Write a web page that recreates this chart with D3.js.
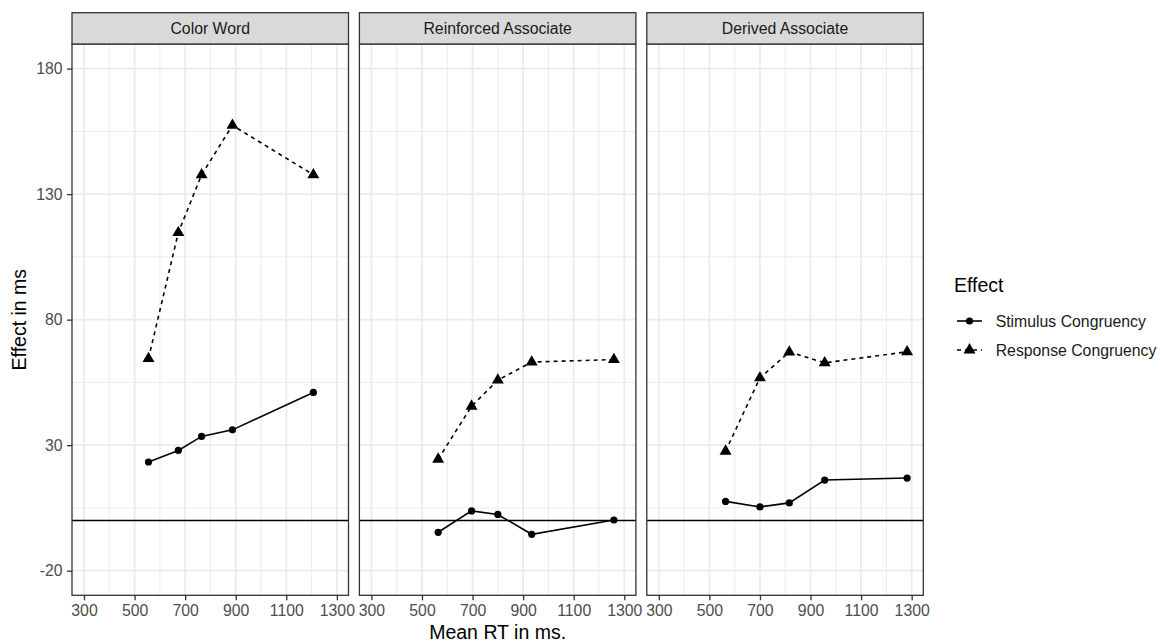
<!DOCTYPE html>
<html>
<head>
<meta charset="utf-8">
<script src="https://cdn.jsdelivr.net/npm/d3@7"></script>
<style>
  body { margin: 0; background: #fff; }
  text { font-family: "Liberation Sans", Arial, sans-serif; }
</style>
</head>
<body>
<svg id="chart" width="1160" height="643"></svg>
<script>
// Data
var facets = ["Color Word", "Reinforced Associate", "Derived Associate"];
var meanRT = [
  [555, 673, 765, 887, 1207],
  [564, 696, 800, 934, 1259],
  [564, 700, 816, 956, 1282]
];
var stimulusEffect = [
  [23.3, 27.9, 33.5, 36.1, 51.0],
  [-4.7, 3.8, 2.4, -5.5, 0.2],
  [7.6, 5.4, 7.0, 16.1, 16.9]
];
var responseEffect = [
  [64.5, 114.7, 137.7, 157.4, 137.7],
  [24.4, 45.5, 55.9, 63.1, 64.1],
  [27.6, 56.8, 67.1, 62.8, 67.2]
];
var seriesNames = ["Stimulus Congruency", "Response Congruency"];
var xTicks = [300, 500, 700, 900, 1100, 1300];
var xMinor = [400, 600, 800, 1000, 1200];
var yTicks = [-20, 30, 80, 130, 180];
var yMinor = [5, 55, 105, 155];

// Layout
var svg = d3.select("#chart"),
    left = 72,
    panelW = 276.5,
    gap = 10.9,
    stripTop = 12.7,
    stripH = 31.3,
    panelTop = stripTop + stripH,
    panelBottom = 595.3,
    fontSmall = "15.8px",
    fontTitle = "19.5px",
    plain = function(d) { return String(d); };

var y = d3.scaleLinear().domain([-29.8, 189.8]).range([panelBottom, panelTop]);
var symTri = d3.symbol().type(d3.symbolTriangle).size(62);

facets.forEach(function(name, i) {
  var x0 = left + i * (panelW + gap);
  var x = d3.scaleLinear().domain([252.5, 1346]).range([x0, x0 + panelW]);
  var g = svg.append("g");

  // Grid
  g.selectAll(".ymin").data(yMinor).enter().append("line")
    .attr("x1", x0).attr("x2", x0 + panelW)
    .attr("y1", function(d) { return y(d); }).attr("y2", function(d) { return y(d); })
    .attr("stroke", "#ebebeb").attr("stroke-width", 1);
  g.selectAll(".xmin").data(xMinor).enter().append("line")
    .attr("y1", panelTop).attr("y2", panelBottom)
    .attr("x1", function(d) { return x(d); }).attr("x2", function(d) { return x(d); })
    .attr("stroke", "#ebebeb").attr("stroke-width", 1);
  g.selectAll(".ymaj").data(yTicks).enter().append("line")
    .attr("x1", x0).attr("x2", x0 + panelW)
    .attr("y1", function(d) { return y(d); }).attr("y2", function(d) { return y(d); })
    .attr("stroke", "#ebebeb").attr("stroke-width", 1.8);
  g.selectAll(".xmaj").data(xTicks).enter().append("line")
    .attr("y1", panelTop).attr("y2", panelBottom)
    .attr("x1", function(d) { return x(d); }).attr("x2", function(d) { return x(d); })
    .attr("stroke", "#ebebeb").attr("stroke-width", 1.8);

  // zero reference line
  g.append("line")
    .attr("x1", x0).attr("x2", x0 + panelW)
    .attr("y1", y(0)).attr("y2", y(0))
    .attr("stroke", "#000").attr("stroke-width", 1.5);

  // Series
  var pts = meanRT[i].map(function(v, j) {
    return {x: v, s: stimulusEffect[i][j], r: responseEffect[i][j]};
  });
  var lineS = d3.line().x(function(d) { return x(d.x); }).y(function(d) { return y(d.s); });
  var lineR = d3.line().x(function(d) { return x(d.x); }).y(function(d) { return y(d.r); });

  g.append("path").datum(pts).attr("d", lineS)
    .attr("fill", "none").attr("stroke", "#000").attr("stroke-width", 1.6);
  g.append("path").datum(pts).attr("d", lineR)
    .attr("fill", "none").attr("stroke", "#000").attr("stroke-width", 1.6)
    .attr("stroke-dasharray", "4,4");

  g.selectAll(".pt").data(pts).enter().append("circle")
    .attr("cx", function(d) { return x(d.x); })
    .attr("cy", function(d) { return y(d.s); })
    .attr("r", 3.6).attr("fill", "#000");
  g.selectAll(".tri").data(pts).enter().append("path")
    .attr("d", symTri)
    .attr("transform", function(d) { return "translate(" + x(d.x) + "," + y(d.r) + ")"; })
    .attr("fill", "#000");

  // Panel border
  g.append("rect")
    .attr("x", x0).attr("y", panelTop).attr("width", panelW).attr("height", panelBottom - panelTop)
    .attr("fill", "none").attr("stroke", "#333").attr("stroke-width", 1.3);

  // Strip
  g.append("rect")
    .attr("x", x0).attr("y", stripTop).attr("width", panelW).attr("height", stripH)
    .attr("fill", "#d9d9d9").attr("stroke", "#333").attr("stroke-width", 1.3);
  g.append("text")
    .attr("x", x0 + panelW / 2).attr("y", stripTop + stripH / 2)
    .attr("dy", "0.35em").attr("text-anchor", "middle")
    .attr("font-size", fontSmall).attr("fill", "#1a1a1a")
    .text(name);

  // X axis
  var xAxis = g.append("g")
    .attr("transform", "translate(0," + panelBottom + ")")
    .call(d3.axisBottom(x).tickValues(xTicks).tickFormat(plain).tickSize(5).tickPadding(4.5));
  xAxis.select(".domain").remove();
  xAxis.selectAll(".tick line").attr("stroke", "#333").attr("stroke-width", 1.3);
  xAxis.selectAll("text").attr("font-size", fontSmall).attr("fill", "#4d4d4d")
    .attr("font-family", "Liberation Sans, Arial, sans-serif");

  // Y axis only on first panel
  if (i === 0) {
    var yAxis = g.append("g")
      .attr("transform", "translate(" + x0 + ",0)")
      .call(d3.axisLeft(y).tickValues(yTicks).tickFormat(plain).tickSize(5).tickPadding(4.5));
    yAxis.select(".domain").remove();
    yAxis.selectAll(".tick line").attr("stroke", "#333").attr("stroke-width", 1.3);
    yAxis.selectAll("text").attr("font-size", fontSmall).attr("fill", "#4d4d4d")
      .attr("font-family", "Liberation Sans, Arial, sans-serif");
  }
});

// Axis titles
var plotRight = left + 3 * panelW + 2 * gap;
svg.append("text")
  .attr("x", (left + plotRight) / 2).attr("y", 639)
  .attr("text-anchor", "middle").attr("font-size", fontTitle)
  .text("Mean RT in ms.");
svg.append("text")
  .attr("transform", "translate(26," + ((panelTop + panelBottom) / 2) + ") rotate(-90)")
  .attr("text-anchor", "middle").attr("font-size", fontTitle)
  .text("Effect in ms");

// Legend
var legend = svg.append("g").attr("transform", "translate(954,0)");
legend.append("text").attr("x", 0).attr("y", 292)
  .attr("font-size", fontTitle).text("Effect");
seriesNames.forEach(function(name, k) {
  var ly = 321 + k * 29;
  legend.append("line")
    .attr("x1", 3).attr("x2", 28).attr("y1", ly).attr("y2", ly)
    .attr("stroke", "#000").attr("stroke-width", 1.6)
    .attr("stroke-dasharray", k === 1 ? "4,4" : null);
  if (k === 0) {
    legend.append("circle").attr("cx", 15.5).attr("cy", ly).attr("r", 3.6).attr("fill", "#000");
  } else {
    legend.append("path").attr("d", symTri)
      .attr("transform", "translate(15.5," + ly + ")").attr("fill", "#000");
  }
  legend.append("text").attr("x", 41.7).attr("y", ly).attr("dy", "0.35em")
    .attr("font-size", fontSmall).attr("fill", "#1a1a1a").text(name);
});
</script>
</body>
</html>
